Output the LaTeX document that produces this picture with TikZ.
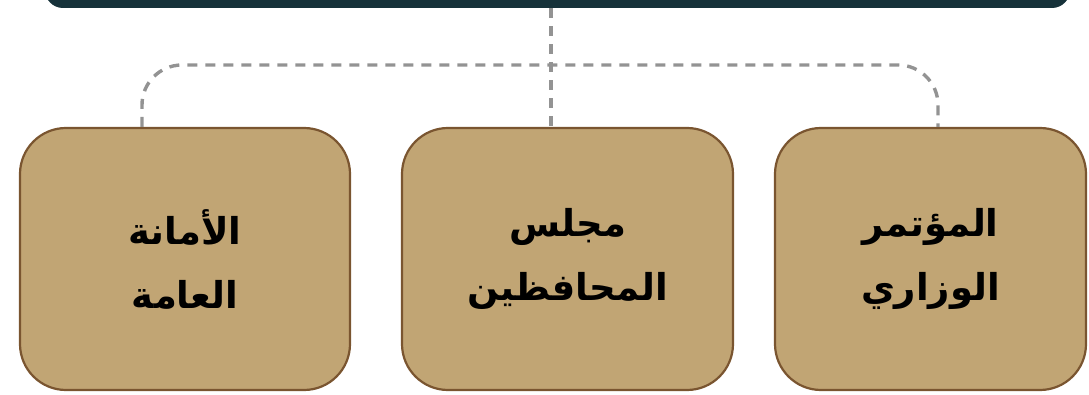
\documentclass[tikz,border=0pt]{standalone}
\usepackage{fontspec}
\newfontfamily\arabicfont[Script=Arabic]{DejaVu Sans}
\TeXXeTstate=1
\begin{document}
\begin{tikzpicture}[x=1pt,y=1pt,
  unitbox/.style={draw=boxline, line width=2.2pt, fill=boxfill, rounded corners=46pt,
    minimum height=262pt, inner sep=0pt, align=center, text=black,
    font=\arabicfont\bfseries\fontsize{37}{64}\selectfont},
  linkline/.style={draw=dashgray, line width=3.4pt, dash pattern=on 10pt off 8pt, rounded corners=40pt}]
\definecolor{boxfill}{HTML}{C1A574}
\definecolor{boxline}{HTML}{7A5530}
\definecolor{dashgray}{HTML}{939393}
\definecolor{topdark}{HTML}{16323A}
\useasboundingbox (0,0) rectangle (1089,-395);
\begin{scope}
\clip (0,0) rectangle (1089,-395);
\node[fill=topdark, rounded corners=18pt, minimum width=1025pt, minimum height=60pt, inner sep=0pt] (topbar) at (557.5,22) {};
\end{scope}
\node[unitbox, minimum width=330pt] (left) at (185,-259) {\beginR الأمانة\endR\\\beginR العامة\endR};
\node[unitbox, minimum width=331pt] (mid) at (567.5,-259) {\beginR مجلس\endR\\\beginR المحافظين\endR};
\node[unitbox, minimum width=311pt] (right) at (930.5,-259) {\beginR المؤتمر\endR\\\beginR الوزاري\endR};
\coordinate (hub) at (551,-65);
\coordinate (lx) at (142,-65);
\coordinate (rx) at (938,-65);
\draw[linkline] (topbar.south -| hub) -- (mid.north -| hub);
\draw[linkline] (left.north -| lx) |- (hub) -| (right.north -| rx);
\end{tikzpicture}
\end{document}
